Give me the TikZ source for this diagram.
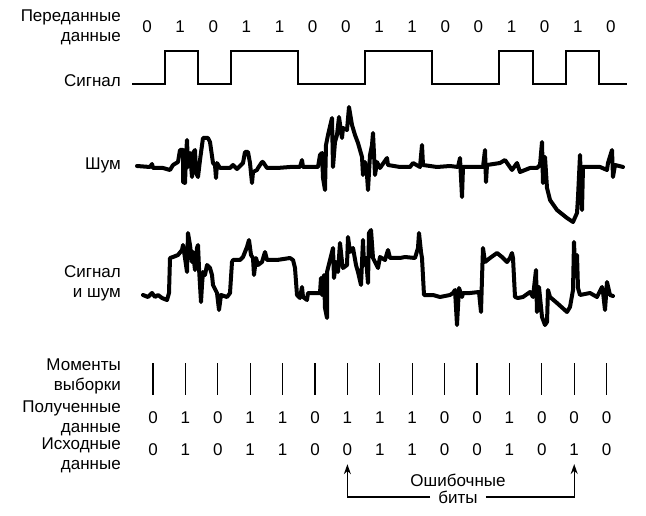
\documentclass[tikz,border=0pt]{standalone}
\usepackage{fontspec}
\setmainfont{Liberation Sans}
\usetikzlibrary{arrows.meta}
\tikzset{
    every node/.append style={font=\fontsize{17}{20}\selectfont},
    lbl/.style={anchor=east, align=right, inner sep=0pt},
    bit/.style={inner sep=1pt},
    level/.style={line width=1.3pt},
    trace/.style={line width=4pt, line join=round, line cap=round},
    sample/.style={line width=1.2pt},
    flow/.style={-{Stealth[length=10pt,width=7pt]}, line width=1.3pt},
    note/.style={align=center},
}

\begin{document}
\begin{tikzpicture}[x=1pt, y=-1pt]
    \useasboundingbox (0,0) rectangle (646,516);

    % row labels
    \node[lbl] (sentlbl) at (121,27) {Переданные\\данные};
    \node[lbl] (siglbl) at (121,81) {Сигнал};
    \node[lbl] (noiselbl) at (121,165) {Шум};
    \node[lbl] (sumlbl) at (121,283) {Сигнал\\и шум};
    \node[lbl] (samplbl) at (121,376) {Моменты\\выборки};
    \node[lbl] (recvlbl) at (121,418) {Полученные\\данные};
    \node[lbl] (origlbl) at (121,455) {Исходные\\данные};

    % transmitted bits
    \foreach \b [count=\i from 0] in {0,1,0,1,1,0,0,1,1,0,0,1,0,1,0}
        \node[bit] (sent-\i) at ({147+33.14*\i},27) {\b};

    % square signal
    \draw[level] (132,84) -- (165,84) -- (165,51) -- (198,51) -- (198,84)
        -- (231,84) -- (231,51) -- (298,51) -- (298,84) -- (365,84)
        -- (365,51) -- (432,51) -- (432,84) -- (499,84) -- (499,51)
        -- (533,51) -- (533,84) -- (566,84) -- (566,51) -- (599,51)
        -- (599,84) -- (627,84);

    % noise
    \draw[trace] (137,166) -- (150,167) -- (152,164) -- (153,168) -- (163,168)
        -- (170,170) -- (173,165) -- (178,162) -- (180,150) -- (183,150)
        -- (183,182) -- (185,183) -- (186,157) -- (187,140) -- (188,167)
        -- (190,153) -- (192,177) -- (193,153) -- (195,150) -- (196,173)
        -- (198,177) -- (200,160) -- (203,138) -- (208,138) -- (210,142)
        -- (213,163) -- (215,165) -- (216,178) -- (217,163) -- (220,168)
        -- (230,168) -- (233,165) -- (237,169) -- (243,163) -- (245,152)
        -- (248,152) -- (250,163) -- (252,183) -- (253,172) -- (257,170)
        -- (258,168) -- (262,162) -- (263,162) -- (267,168) -- (277,168)
        -- (290,167) -- (300,167) -- (302,160) -- (303,167) -- (318,167)
        -- (320,155) -- (322,153) -- (323,178) -- (325,190) -- (326,145)
        -- (328,135) -- (332,118) -- (333,167) -- (335,142) -- (337,135)
        -- (339,117) -- (342,138) -- (343,128) -- (347,130) -- (349,107)
        -- (352,125) -- (355,135) -- (358,143) -- (362,157) -- (363,175)
        -- (365,162) -- (367,175) -- (368,190) -- (370,155) -- (372,145)
        -- (373,133) -- (375,175) -- (377,162) -- (380,168) -- (387,158)
        -- (388,165) -- (400,167) -- (410,167) -- (413,163) -- (420,167)
        -- (422,145) -- (423,165) -- (437,167) -- (450,166) -- (458,167)
        -- (460,158) -- (462,197) -- (463,167) -- (483,167) -- (485,150)
        -- (486,182) -- (487,165) -- (500,163) -- (505,160) -- (512,170)
        -- (517,163) -- (520,172) -- (530,168) -- (537,168) -- (540,165)
        -- (542,142) -- (543,183) -- (545,157) -- (547,188) -- (550,200)
        -- (557,210) -- (567,218) -- (573,222) -- (577,213) -- (578,197)
        -- (580,155) -- (582,210) -- (583,167) -- (600,167) -- (607,170)
        -- (608,163) -- (612,150) -- (613,177) -- (615,165) -- (623,167);

    % signal plus noise
    \draw[trace] (143,295) -- (148,297) -- (152,293) -- (155,297) -- (158,295)
        -- (162,298) -- (167,300) -- (169,293) -- (170,258) -- (173,257)
        -- (178,255) -- (182,250) -- (183,245) -- (185,258) -- (187,272)
        -- (188,233) -- (190,245) -- (192,262) -- (193,252) -- (195,270)
        -- (197,248) -- (198,245) -- (199,268) -- (201,302) -- (202,285)
        -- (203,272) -- (205,275) -- (207,265) -- (210,268) -- (212,275)
        -- (213,285) -- (217,293) -- (219,310) -- (221,295) -- (227,297)
        -- (230,293) -- (232,262) -- (233,260) -- (240,260) -- (243,257)
        -- (247,247) -- (249,240) -- (251,255) -- (253,258) -- (254,275)
        -- (256,258) -- (258,265) -- (262,262) -- (265,252) -- (267,260)
        -- (277,260) -- (290,258) -- (293,260) -- (295,268) -- (297,295)
        -- (300,298) -- (302,287) -- (303,297) -- (307,300) -- (308,293)
        -- (320,293) -- (321,278) -- (322,295) -- (324,275) -- (325,308)
        -- (327,318) -- (327,272) -- (330,260) -- (333,248) -- (334,278)
        -- (336,262) -- (338,272) -- (340,243) -- (342,262) -- (343,268)
        -- (347,265) -- (348,237) -- (350,252) -- (353,248) -- (356,265)
        -- (358,272) -- (361,285) -- (363,240) -- (364,265) -- (366,258)
        -- (368,283) -- (369,233) -- (371,230) -- (373,258) -- (375,262)
        -- (378,268) -- (380,257) -- (385,260) -- (388,250) -- (390,258)
        -- (400,258) -- (405,257) -- (415,258) -- (418,248) -- (419,233)
        -- (421,252) -- (422,258) -- (424,295) -- (433,295) -- (440,297)
        -- (450,295) -- (453,293) -- (455,290) -- (457,325) -- (459,288)
        -- (462,297) -- (463,293) -- (470,293) -- (479,292) -- (481,312)
        -- (482,278) -- (483,248) -- (485,262) -- (490,258) -- (497,253)
        -- (502,257) -- (507,262) -- (510,258) -- (512,253) -- (513,258)
        -- (515,297) -- (518,298) -- (523,297) -- (530,292) -- (533,297)
        -- (536,270) -- (537,312) -- (539,287) -- (542,317) -- (545,325)
        -- (547,322) -- (548,290) -- (550,297) -- (557,303) -- (567,312)
        -- (570,307) -- (573,290) -- (574,242) -- (575,267) -- (577,255)
        -- (578,288) -- (580,295) -- (590,293) -- (597,297) -- (602,287)
        -- (603,292) -- (605,310) -- (607,282) -- (610,295) -- (613,296);

    % sampling instants
    \foreach \i in {0,...,14}
        \draw[sample] ({153+32.4*\i},363) -- ({153+32.4*\i},395);

    % received and original bits
    \foreach \b [count=\i from 0] in {0,1,0,1,1,0,1,1,1,0,0,1,0,0,0}
        \node[bit] (recv-\i) at ({153+32.4*\i},418) {\b};
    \foreach \b [count=\i from 0] in {0,1,0,1,1,0,0,1,1,0,0,1,0,1,0}
        \node[bit] (orig-\i) at ({153+32.4*\i},450) {\b};

    % error bits
    \node[note] (errlbl) at (458,480) {Ошибочные};
    \node[note, inner sep=8pt] (bits) at (458,497) {биты};
    \draw[flow, shorten >=7pt] (bits.west) -| (orig-6.south);
    \draw[flow, shorten >=7pt] (bits.east) -| (orig-13.south);

\end{tikzpicture}
\end{document}
